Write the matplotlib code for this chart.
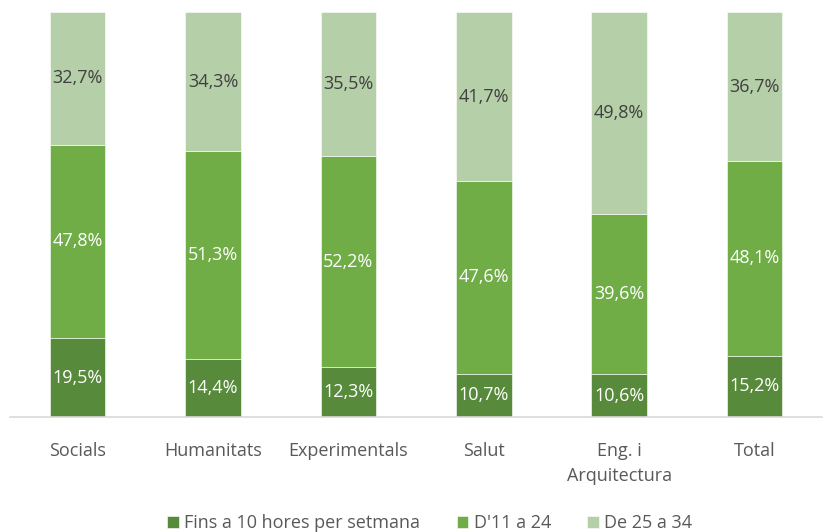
import matplotlib
matplotlib.use("Agg")
import matplotlib.pyplot as plt
import numpy as np

categories = ["Socials", "Humanitats", "Experimentals", "Salut", "Eng. i\nArquitectura", "Total"]
series_names = ["Fins a 10 hores per setmana", "D'11 a 24", "De 25 a 34"]
fins10 = [19.5, 14.4, 12.3, 10.7, 10.6, 15.2]
d11_24 = [47.8, 51.3, 52.2, 47.6, 39.6, 48.1]
d25_34 = [32.7, 34.3, 35.5, 41.7, 49.8, 36.7]

colors = ["#578A3A", "#70AD47", "#B5CFA8"]
text_colors = ["white", "white", "#404040"]

plt.rcParams['font.family'] = ['Open Sans', 'DejaVu Sans']

fig = plt.figure(figsize=(8.33, 5.32), dpi=100)
ax = fig.add_axes([0.012, 0.216, 0.975, 0.761])

x = np.arange(len(categories))
bottom = np.zeros(len(categories))
handles = []
for vals, c, tc, name in zip([fins10, d11_24, d25_34], colors, text_colors, series_names):
    vals = np.array(vals)
    b = ax.bar(x, vals, 0.41, bottom=bottom, color=c, edgecolor="white", linewidth=0.4, label=name)
    handles.append(b)
    for xi, v, bt in zip(x, vals, bottom):
        ax.text(xi, bt + v / 2, f"{v:.1f}%".replace(".", ","), ha="center", va="center",
                color=tc, fontsize=13)
    bottom += vals

ax.set_xlim(-0.5, len(categories) - 0.5)
ax.set_ylim(0, 100)
ax.set_yticks([])
ax.set_xticks(x)
ax.set_xticklabels(categories, fontsize=13, color="#595959", linespacing=1.5)
ax.tick_params(axis="x", length=0, pad=18)
for s in ["top", "left", "right"]:
    ax.spines[s].set_visible(False)
ax.spines["bottom"].set_color("#D9D9D9")
ax.spines["bottom"].set_linewidth(1.2)

leg = fig.legend(handles=handles, loc="center", bbox_to_anchor=(0.516, 0.016), ncol=3,
                 frameon=False, fontsize=13, handlelength=0.65, handleheight=0.65,
                 handletextpad=0.3, columnspacing=2.0, labelcolor="#595959")

fig.savefig("out.png", dpi=100)
